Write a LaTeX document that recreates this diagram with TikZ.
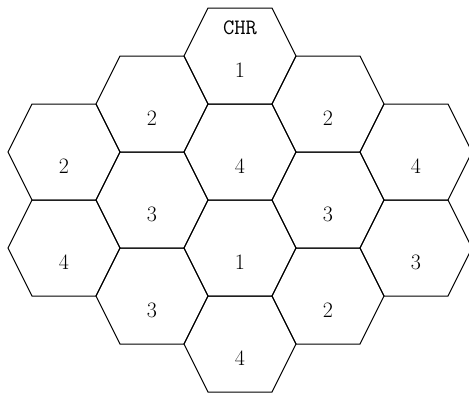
\documentclass[tikz,border=0pt]{standalone}
\usepackage{tikz}
\usetikzlibrary{positioning}
\tikzset{
  hexcell/.style={line width=1pt},
  celllabel/.style={font=\fontsize{22}{26}\selectfont, inner sep=0pt},
  chrlabel/.style={font=\ttfamily\fontsize{22}{26}\selectfont, inner sep=0pt}
}
\begin{document}
\begin{tikzpicture}[x=1pt,y=-1pt]
    \useasboundingbox (0,0) rectangle (469,399);
    % Hexagonal cells: centre x / centre y / reuse group / name
    \foreach \cx/\cy/\lab/\nm in {64/152/2/a1, 64/248/4/a2,
        152/104/2/b1, 152/200/3/b2, 152/296/3/b3,
        240/56/1/c1, 240/152/4/c2, 240/248/1/c3, 240/344/4/c4,
        328/104/2/d1, 328/200/3/d2, 328/296/2/d3,
        416/152/4/e1, 416/248/3/e2}{
      \draw[hexcell] (\cx-32,\cy-48) -- (\cx+32,\cy-48) -- (\cx+56,\cy)
        -- (\cx+32,\cy+48) -- (\cx-32,\cy+48) -- (\cx-56,\cy) -- cycle;
      \node[celllabel] (\nm) at (\cx,\cy+14) {\lab};
    }
    % Cell label of the top cell
    \node[chrlabel] (chr) at (240,28) {CHR};
\end{tikzpicture}
\end{document}
